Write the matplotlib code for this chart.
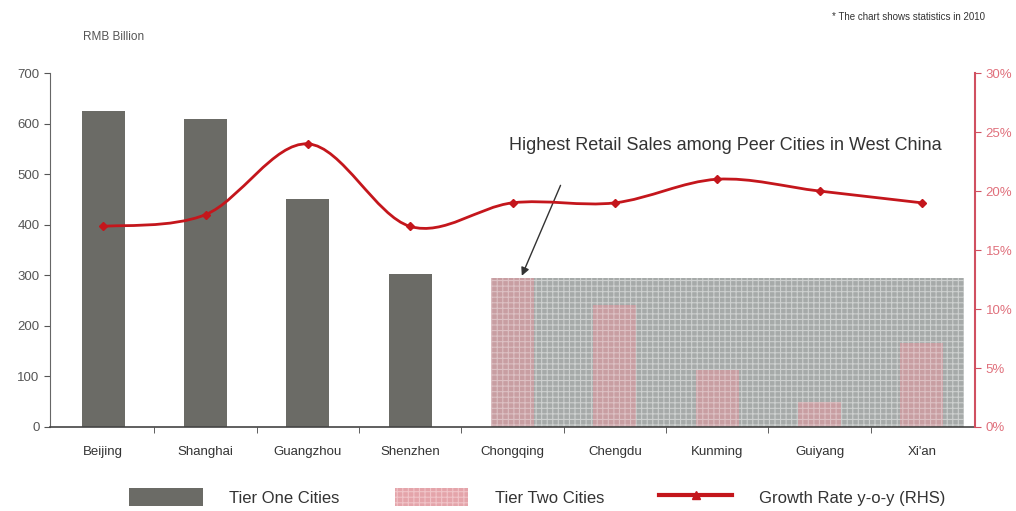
import numpy as np
import matplotlib.pyplot as plt
from matplotlib.path import Path
from matplotlib.patches import PathPatch, Rectangle
from matplotlib.ticker import FixedLocator, PercentFormatter
from matplotlib.lines import Line2D

plt.rcParams['font.family'] = ['Liberation Sans', 'DejaVu Sans']
plt.rcParams['hatch.linewidth'] = 0.8

cities = ['Beijing', 'Shanghai', 'Guangzhou', 'Shenzhen', 'Chongqing',
          'Chengdu', 'Kunming', 'Guiyang', "Xi'an"]
tier_one = [624, 609, 451, 302]
tier_two = [294, 241, 113, 49, 166]
growth = [17, 18, 24, 17, 19, 19, 21, 20, 19]


def smooth_path(xs, ys, t=0.5):
    # catmull-rom style bezier through the points
    pts = np.column_stack([xs, ys]).astype(float)
    verts = [pts[0]]
    codes = [Path.MOVETO]
    n = len(pts)
    for i in range(n - 1):
        p0 = pts[max(i - 1, 0)]
        p1 = pts[i]
        p2 = pts[i + 1]
        p3 = pts[min(i + 2, n - 1)]
        c1 = p1 + (p2 - p0) * t / 3
        c2 = p2 - (p3 - p1) * t / 3
        verts += [c1, c2, p2]
        codes += [Path.CURVE4] * 3
    return Path(verts, codes)


fig = plt.figure(figsize=(10.16, 5.11), dpi=100)
ax = fig.add_axes([0.0492, 0.1644, 0.9105, 0.6926])
x = np.arange(len(cities))
w = 0.42

grey = '#6b6b66'
pink = '#c89ea2'
red = '#c4161c'

# highlighted region behind tier two bars
ax.add_patch(Rectangle((4 - w / 2, 0), 4 + w + 0.2, tier_two[0],
                       facecolor='#a6aaa9', edgecolor='#cdd0cf', linewidth=0,
                       hatch='+++', zorder=1))
ax.bar(x[:4], tier_one, width=w, color=grey, zorder=2)
ax.bar(x[4:], tier_two, width=w, color=pink, hatch='+++', edgecolor='#dcc0c3',
       linewidth=0, zorder=2)

ax.set_xlim(-0.52, 8.52)
ax.set_ylim(0, 700)
ax.set_yticks(range(0, 701, 100))
ax.set_xticks(x)
ax.set_xticklabels(cities)
ax.xaxis.set_minor_locator(FixedLocator(x[:-1] + 0.5))
ax.tick_params(axis='x', which='both', length=4, color='#444444', pad=14, labelsize=9.5,
               labelcolor='#333333')
ax.tick_params(axis='x', which='major', length=0)
ax.tick_params(axis='y', length=4, color='#555555', labelsize=9.5, labelcolor='#555555')
for s in ['top', 'right']:
    ax.spines[s].set_visible(False)
ax.spines['left'].set_color('#666666')
ax.spines['bottom'].set_color('#444444')
ax.spines['bottom'].set_linewidth(1.2)

ax2 = ax.twinx()
ax2.set_ylim(0, 30)
ax2.yaxis.set_major_locator(FixedLocator(range(0, 31, 5)))
ax2.yaxis.set_major_formatter(PercentFormatter(decimals=0))
ax2.tick_params(axis='y', length=4, color='#d05060', labelsize=9.5, labelcolor='#e0707c')
for s in ['top', 'left', 'bottom']:
    ax2.spines[s].set_visible(False)
ax2.spines['right'].set_color('#d05060')
ax2.spines['right'].set_linewidth(1.5)
ax2.add_patch(PathPatch(smooth_path(x, growth), facecolor='none', edgecolor=red,
                        linewidth=2, zorder=3))
ax2.plot(x, growth, linestyle='none', marker='D', markersize=4.5, color=red, zorder=4)

ax.text(6.08, 557, 'Highest Retail Sales among Peer Cities in West China',
        ha='center', va='center', fontsize=13, color='#333333', zorder=5)
ax.annotate('', xy=(4.08, 294), xytext=(4.48, 483),
            arrowprops=dict(arrowstyle='-|>', color='#333333', lw=1, mutation_scale=12))

fig.text(0.082, 0.927, 'RMB Billion', fontsize=8.5, color='#555555', va='center')
fig.text(0.969, 0.966, '* The chart shows statistics in 2010', fontsize=7, color='#333333',
         ha='right', va='center')

handles = [Rectangle((0, 0), 1, 1, facecolor=grey),
           Rectangle((0, 0), 1, 1, facecolor='#e4a4aa', hatch='+++', edgecolor='#f0c4c8',
                     linewidth=0),
           Line2D([0], [0], color=red, lw=3, marker='^', markersize=6)]
fig.legend(handles, ['Tier One Cities', 'Tier Two Cities', 'Growth Rate y-o-y (RHS)'],
           loc='center', bbox_to_anchor=(0.529, 0.027), ncol=3, frameon=False,
           fontsize=12, handlelength=4.4, handleheight=1.3, columnspacing=3.3,
           handletextpad=1.6, labelcolor='#333333')

fig.savefig('out.png', dpi=100)
